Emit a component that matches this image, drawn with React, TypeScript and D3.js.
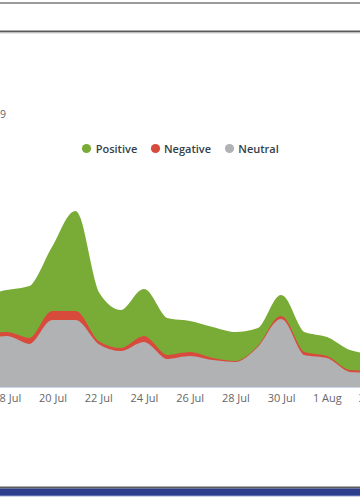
import React, { useEffect, useRef } from "react";
import * as d3 from "d3";

const dates = [
  "2019-07-17", "2019-07-18", "2019-07-19", "2019-07-20", "2019-07-21", "2019-07-22",
  "2019-07-23", "2019-07-24", "2019-07-25", "2019-07-26", "2019-07-27", "2019-07-28",
  "2019-07-29", "2019-07-30", "2019-07-31", "2019-08-01", "2019-08-02", "2019-08-03",
];
const positive = [39, 42, 52, 64, 100, 49, 38, 47, 37, 31, 31, 29, 18, 21, 20, 19, 20, 17];
const negative = [5, 4, 6, 9, 9, 3, 3, 6, 4, 4, 2, 1, 1, 3, 3, 2, 2, 2];
const neutral = [47, 50, 42, 66, 66, 42, 35, 44, 27, 30, 26, 24, 39, 67, 31, 28, 14, 13];
const tickDates = [
  "2019-07-18", "2019-07-20", "2019-07-22", "2019-07-24", "2019-07-26",
  "2019-07-28", "2019-07-30", "2019-08-01", "2019-08-03",
];
const seriesNames = ["Positive", "Negative", "Neutral"];
const seriesColors = ["#79ac37", "#d84b3c", "#b1b2b4"];
const subtitleTail = "9";

const W = 360;
const H = 500;

export default function App() {
  const ref = useRef<SVGSVGElement | null>(null);

  useEffect(() => {
    const svg = d3.select(ref.current);
    svg.selectAll("*").remove();
    const parse = d3.timeParse("%Y-%m-%d");
    const xDates = dates.map((d) => parse(d) as Date);
    const x = d3
      .scaleTime()
      .domain([parse("2019-07-20") as Date, parse("2019-08-01") as Date])
      .range([52.5, 326.8]);
    const y = d3.scaleLinear().domain([0, 200]).range([387, 187]);

    // frame lines
    svg.append("rect").attr("x", 0).attr("y", 2).attr("width", W).attr("height", 2).attr("fill", "#9a9a9a");
    svg.append("rect").attr("x", 0).attr("y", 30.5).attr("width", W).attr("height", 2).attr("fill", "#5a5a5a");
    svg.append("rect").attr("x", 0).attr("y", 32.5).attr("width", W).attr("height", 1).attr("fill", "#d0d0d0");

    svg
      .append("text")
      .attr("x", 0)
      .attr("y", 118)
      .attr("font-family", "'Open Sans', sans-serif")
      .attr("font-size", 10.5)
      .attr("fill", "#5b6670")
      .text(subtitleTail);

    // stack
    const rows = dates.map((_, i) => ({
      Positive: positive[i],
      Negative: negative[i],
      Neutral: neutral[i],
    }));
    const stack = d3.stack<any>().keys(["Neutral", "Negative", "Positive"]);
    const layers = stack(rows);
    const area = d3
      .area<any>()
      .x((_, i) => x(xDates[i]))
      .y0((d) => y(d[0]))
      .y1((d) => y(d[1]))
      .curve(d3.curveMonotoneX);
    const line = d3
      .line<any>()
      .x((_, i) => x(xDates[i]))
      .y((d) => y(d[1]))
      .curve(d3.curveMonotoneX);

    const g = svg.append("g");
    // draw Positive first, Neutral last (on top)
    const order = ["Positive", "Negative", "Neutral"];
    order.forEach((key) => {
      const layer = layers.find((l) => l.key === key)!;
      const color = seriesColors[seriesNames.indexOf(key)];
      g.append("path").datum(layer).attr("d", area).attr("fill", color);
      g.append("path")
        .datum(layer)
        .attr("d", line)
        .attr("fill", "none")
        .attr("stroke", color)
        .attr("stroke-width", 2);
    });

    // baseline
    svg
      .append("line")
      .attr("x1", 0)
      .attr("x2", W)
      .attr("y1", 387.5)
      .attr("y2", 387.5)
      .attr("stroke", "#ccd6eb")
      .attr("stroke-width", 1);

    // x axis
    const axis = d3
      .axisBottom(x)
      .tickValues(tickDates.map((d) => parse(d) as Date))
      .tickFormat((d: any) => d3.timeFormat("%-d %b")(d))
      .tickSize(0)
      .tickPadding(0);
    const ax = svg.append("g").attr("transform", "translate(0,394)").call(axis as any);
    ax.select(".domain").remove();
    ax.selectAll("text")
      .attr("font-family", "'Open Sans', sans-serif")
      .attr("font-size", 11)
      .attr("fill", "#666666")
      .attr("dy", "0.71em");

    // legend
    const legendDots = [86.5, 155.5, 229.5];
    const legendText = [95.7, 164, 238.3];
    seriesNames.forEach((name, i) => {
      svg.append("circle").attr("cx", legendDots[i]).attr("cy", 148.5).attr("r", 4.6).attr("fill", seriesColors[i]);
      svg
        .append("text")
        .attr("x", legendText[i])
        .attr("y", 152.8)
        .attr("font-family", "'Open Sans', sans-serif")
        .attr("font-size", 11)
        .attr("font-weight", 600)
        .attr("fill", "#333f49")
        .text(name);
    });

    // bottom band
    svg.append("rect").attr("x", 0).attr("y", 486.5).attr("width", W).attr("height", 2).attr("fill", "#5c5c5c");
    svg.append("rect").attr("x", 0).attr("y", 488.5).attr("width", W).attr("height", 6.5).attr("fill", "#2d3d8c");
    svg.append("rect").attr("x", 0).attr("y", 495).attr("width", W).attr("height", 1.3).attr("fill", "#5a6ab0");
  }, []);

  return (
    <div style={{ position: "absolute", left: 0, top: 0, width: W, height: H }}>
      <svg ref={ref} width={W} height={H} style={{ display: "block", background: "#ffffff" }} />
    </div>
  );
}
